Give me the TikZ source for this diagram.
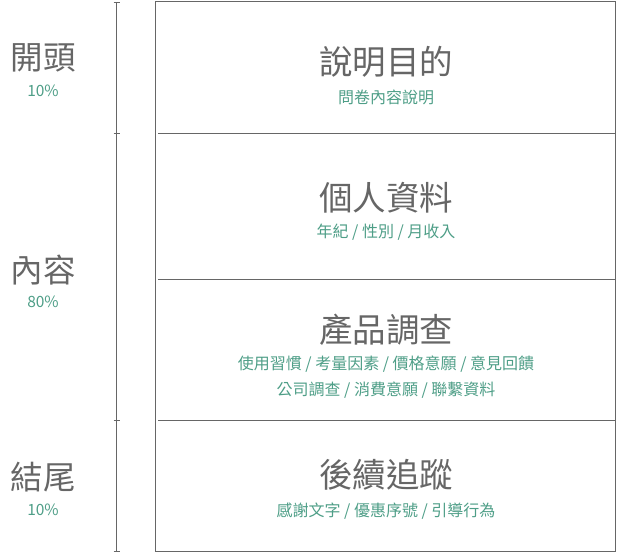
\documentclass[tikz,border=0pt]{standalone}
\usepackage{fontspec}
\setmainfont{Noto Sans CJK TC}
\definecolor{gr}{HTML}{666666}
\definecolor{gn}{HTML}{4E9E87}
\begin{document}
\begin{tikzpicture}[x=1pt,y=-1pt,
  ttl/.style={text=gr,font=\fontsize{33.5}{33.5}\selectfont,inner sep=0pt},
  lbl/.style={text=gr,font=\fontsize{32.5}{32.5}\selectfont,inner sep=0pt},
  sub/.style={text=gn,font=\fontsize{16}{16}\selectfont,inner sep=0pt},
  pct/.style={text=gn,font=\fontsize{15.5}{15.5}\selectfont,inner sep=0pt},
  ln/.style={draw=gr,line width=1pt},
  tk/.style={draw=gr,line width=1pt}]
\useasboundingbox (0,0) rectangle (617,554);
% boxes
\draw[ln] (155.5,1.5) rectangle (615.5,551.5);
\draw[ln] (158,133.5) -- (615.5,133.5);
\draw[ln] (158,279.5) -- (615.5,279.5);
\draw[ln] (158,420.5) -- (615.5,420.5);
% axis
\coordinate (a0) at (116.5,2);
\coordinate (a1) at (116.5,133);
\coordinate (a2) at (116.5,420);
\coordinate (a3) at (116.5,551);
\draw[tk] (a0) -- (a3);
\foreach \c in {a0,a1,a2,a3}{\draw[tk] ([xshift=-3pt]\c) -- ([xshift=3pt]\c);}
% left labels
\node[lbl] (l1) at (43,58) {開頭};
\node[pct] (p1) at (43,91) {10\%};
\node[lbl] (l2) at (43,270) {內容};
\node[pct] (p2) at (43,302) {80\%};
\node[lbl] (l3) at (43,477) {結尾};
\node[pct] (p3) at (43,510) {10\%};
% boxes text
\node[ttl] (t1) at (386,62) {說明目的};
\node[sub] (s1) at (386,97) {問卷內容說明};
\node[ttl] (t2) at (386,198) {個人資料};
\node[sub] (s2) at (386,232) {年紀 / 性別 / 月收入};
\node[ttl] (t3) at (386,330) {產品調查};
\node[sub] (s3) at (386,364) {使用習慣 / 考量因素 / 價格意願 / 意見回饋};
\node[sub] (s4) at (386,390) {公司調查 / 消費意願 / 聯繫資料};
\node[ttl] (t4) at (386,475) {後續追蹤};
\node[sub] (s5) at (386,511) {感謝文字 / 優惠序號 / 引導行為};
\end{tikzpicture}
\end{document}
